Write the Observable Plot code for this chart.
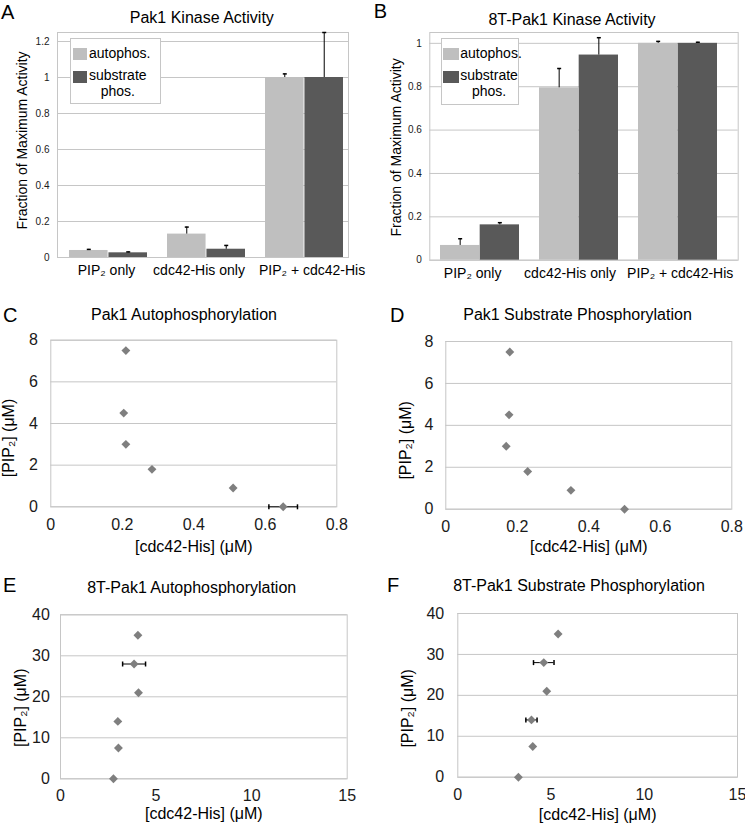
<!DOCTYPE html>
<html>
<head>
<meta charset="utf-8">
<script src="https://cdn.jsdelivr.net/npm/d3@7"></script>
<script src="https://cdn.jsdelivr.net/npm/@observablehq/plot@0.6"></script>
<style>
  body { margin: 0; background: #fff; }
  #fig { position: relative; width: 745px; height: 826px; overflow: hidden;
         font-family: "Liberation Sans", Arial, sans-serif; color: #000; background: #fff; }
  .panel { position: absolute; }
  .title { position: absolute; font-size: 16px; line-height: 16px; width: 400px; text-align: center; white-space: nowrap; }
  .letter { position: absolute; font-size: 20px; line-height: 20px; }
  .legend { position: absolute; background: #fff; border: 1px solid #c6c6c6; box-sizing: border-box; }
  .legend .sw { position: absolute; }
  .legend .lt { position: absolute; font-size: 14px; line-height: 14px; white-space: nowrap; }
  .legend .lt2 { position: absolute; font-size: 14px; line-height: 15.7px; white-space: nowrap; text-align: center; }
</style>
</head>
<body>
<div id="fig"></div>
<script>
// ---------- data ----------
const barCategories = ["PIP₂ only", "cdc42-His only", "PIP₂ + cdc42-His"];
const seriesNames = ["autophos.", "substrate", "phos."];
const pak1Auto = [0.039, 0.13, 1.0];
const pak1AutoErr = [0.006, 0.039, 0.02];
const pak1Sub = [0.026, 0.046, 1.0];
const pak1SubErr = [0.005, 0.021, 0.25];
const t8Auto = [0.068, 0.795, 1.0];
const t8AutoErr = [0.031, 0.089, 0.009];
const t8Sub = [0.163, 0.946, 1.0];
const t8SubErr = [0.01, 0.08, 0.005];
const barTicksA = [0, 0.2, 0.4, 0.6, 0.8, 1, 1.2];
const barTicksB = [0, 0.2, 0.4, 0.6, 0.8, 1];

const pip2Pak1 = [0, 0.9, 1.8, 3, 4.5, 7.5];
const cdcPak1Auto = [0.65, 0.51, 0.283, 0.21, 0.204, 0.21];
const cdcPak1AutoErr = [0.04, 0, 0, 0, 0, 0];
const cdcPak1Sub = [0.50, 0.35, 0.229, 0.169, 0.177, 0.179];
const cdcPak1SubErr = [0, 0, 0, 0, 0, 0];
const pip2T8 = [0, 7.5, 14, 21, 28, 35];
const cdcT8Auto = [2.77, 3.03, 3.0, 4.08, 3.85, 4.05];
const cdcT8AutoErr = [0, 0, 0, 0, 0.6, 0];
const cdcT8Sub = [3.25, 4.02, 3.95, 4.77, 4.61, 5.38];
const cdcT8SubErr = [0, 0, 0.3, 0, 0.55, 0];
const xTicksPak1 = [0, 0.2, 0.4, 0.6, 0.8];
const yTicksPak1 = [0, 2, 4, 6, 8];
const xTicksT8 = [0, 5, 10, 15];
const yTicksT8 = [0, 10, 20, 30, 40];

const titles = ["Pak1 Kinase Activity", "8T-Pak1 Kinase Activity", "Pak1 Autophosphorylation",
  "Pak1 Substrate Phosphorylation", "8T-Pak1 Autophosphorylation", "8T-Pak1 Substrate Phosphorylation"];
const letters = ["A", "B", "C", "D", "E", "F"];
const barYLabel = "Fraction of Maximum Activity";
const scatterXLabel = "[cdc42-His] (μM)";
const scatterYLabel = "[PIP₂] (μM)";

// ---------- style ----------
const FONT = '"Liberation Sans", Arial, sans-serif';
const AUTO = "#bfbfbf", SUB = "#595959", GRID = "#c6c6c6", PT = "#7f7f7f", INK = "#1a1a1a";
const fmt = d => String(+d.toFixed(2));
const hCap = { draw(ctx) { ctx.moveTo(-2, 0); ctx.lineTo(2, 0); } };
const vCap = { draw(ctx) { ctx.moveTo(0, -2.5); ctx.lineTo(0, 2.5); } };

const fig = document.getElementById("fig");
function place(node, left, top) {
  const d = document.createElement("div");
  d.className = "panel";
  d.style.left = left + "px"; d.style.top = top + "px";
  d.appendChild(node); fig.appendChild(d);
}
function addTitle(text, cx, top) {
  const d = document.createElement("div");
  d.className = "title"; d.textContent = text;
  d.style.left = (cx - 200) + "px"; d.style.top = top + "px";
  fig.appendChild(d);
}
function addLetter(text, left, top) {
  const d = document.createElement("div");
  d.className = "letter"; d.textContent = text;
  d.style.left = left + "px"; d.style.top = top + "px";
  fig.appendChild(d);
}
function addLegend(left, top, w, h, swLeft, swW, txtLeft) {
  const box = document.createElement("div");
  box.className = "legend";
  Object.assign(box.style, { left: left + "px", top: top + "px", width: w + "px", height: h + "px" });
  box.innerHTML =
    `<div class="sw" style="left:${swLeft}px;top:8.7px;width:${swW}px;height:12.4px;background:${AUTO}"></div>` +
    `<div class="lt" style="left:${txtLeft}px;top:6.5px">${seriesNames[0]}</div>` +
    `<div class="sw" style="left:${swLeft}px;top:31.6px;width:${swW}px;height:12.4px;background:${SUB}"></div>` +
    `<div class="lt2" style="left:${txtLeft}px;top:29.3px">${seriesNames[1]}<br>${seriesNames[2]}</div>`;
  fig.appendChild(box);
}

function barChart(o) {
  const rows = barCategories.map((c, i) => ({ cat: c, auto: o.auto[i], autoErr: o.autoErr[i], sub: o.sub[i], subErr: o.subErr[i] }));
  const bw = (o.xRange[1] - o.xRange[0]) / 3 * 0.8, half = bw / 2, q = bw / 4;
  return Plot.plot({
    width: o.width, height: o.height,
    marginLeft: o.mL, marginRight: o.mR, marginTop: o.mT, marginBottom: o.mB,
    style: { fontFamily: FONT, fontSize: "10px", color: INK, background: "transparent", overflow: "visible" },
    x: { domain: barCategories, range: o.xRange, paddingInner: 0.2, paddingOuter: 0.1, axis: null },
    y: { domain: [0, o.yMax], ticks: o.yTicks, tickSize: 0, tickPadding: o.tickPad, tickFormat: fmt, label: null },
    marks: [
      Plot.ruleY(o.yTicks, { stroke: GRID }),
      Plot.frame({ stroke: GRID }),
      Plot.barY(rows, { x: "cat", y: "auto", fill: AUTO, insetRight: half }),
      Plot.barY(rows, { x: "cat", y: "sub", fill: SUB, insetLeft: half }),
      Plot.ruleX(rows, { x: "cat", y1: "auto", y2: d => d.auto + d.autoErr, dx: -q, stroke: "#000" }),
      Plot.dot(rows, { x: "cat", y: d => d.auto + d.autoErr, dx: -q, symbol: hCap, r: 2, stroke: "#000", fill: "none" }),
      Plot.ruleX(rows, { x: "cat", y1: "sub", y2: d => d.sub + d.subErr, dx: q, stroke: "#000" }),
      Plot.dot(rows, { x: "cat", y: d => d.sub + d.subErr, dx: q, symbol: hCap, r: 2, stroke: "#000", fill: "none" }),
      ...barCategories.map((c, i) =>
        Plot.text([c], { x: d => d, frameAnchor: "bottom", lineAnchor: "top", textAnchor: "middle",
          dx: o.catDx[i], dy: o.catDy, fontSize: 14, fill: "#000" })),
      Plot.text([barYLabel], { frameAnchor: "left", textAnchor: "middle", lineAnchor: "middle", rotate: -90,
        dx: o.yLabDx, dy: o.yLabDy, fontSize: 14, fill: "#000" })
    ]
  });
}

function scatter(o) {
  const pts = o.xs.map((x, i) => ({ x, y: o.ys[i], e: o.errs[i] }));
  const errPts = pts.filter(d => d.e > 0);
  return Plot.plot({
    width: o.width, height: o.height,
    marginLeft: o.mL, marginRight: o.mR, marginTop: o.mT, marginBottom: o.mB,
    style: { fontFamily: FONT, fontSize: "16px", color: INK, background: "transparent", overflow: "visible" },
    x: { domain: o.xDomain, ticks: o.xTicks, tickSize: 0, tickPadding: o.xPad, tickFormat: fmt, label: null },
    y: { domain: o.yDomain, ticks: o.yTicks, tickSize: 0, tickPadding: o.yPad, tickFormat: fmt, label: null },
    marks: [
      Plot.ruleY(o.yTicks, { stroke: GRID }),
      Plot.frame({ stroke: GRID }),
      Plot.ruleY(errPts, { x1: d => d.x - d.e, x2: d => d.x + d.e, y: "y", stroke: "#000" }),
      Plot.dot(errPts, { x: d => d.x - d.e, y: "y", symbol: vCap, r: 2, stroke: "#000", fill: "none" }),
      Plot.dot(errPts, { x: d => d.x + d.e, y: "y", symbol: vCap, r: 2, stroke: "#000", fill: "none" }),
      Plot.dot(pts, { x: "x", y: "y", symbol: "diamond2", r: 4, fill: PT, stroke: "none" }),
      Plot.text([scatterXLabel], { frameAnchor: "bottom", textAnchor: "middle", lineAnchor: "middle",
        dy: o.xLabDy, fontSize: 16, fill: "#000" }),
      Plot.text([scatterYLabel], { frameAnchor: "left", textAnchor: "middle", lineAnchor: "middle", rotate: -90,
        dx: o.yLabDx, dy: o.yLabDy, fontSize: 16, fill: "#000" })
    ]
  });
}

// ---------- panels ----------
place(barChart({ auto: pak1Auto, autoErr: pak1AutoErr, sub: pak1Sub, subErr: pak1SubErr,
  yMax: 1.25, yTicks: barTicksA, width: 372, height: 290, mL: 57, mR: 24, mT: 32, mB: 33,
  xRange: [57.8, 353.6], catDx: [-2, -7.5, 7.6],
  tickPad: 8, catDy: 8, yLabDx: -35, yLabDy: -4.5 }), 0, 0);
place(barChart({ auto: t8Auto, autoErr: t8AutoErr, sub: t8Sub, subErr: t8SubErr,
  yMax: 1.05, yTicks: barTicksB, width: 373, height: 290, mL: 57.3, mR: 7.3, mT: 32, mB: 30.3,
  xRange: [57.8, 355.4], catDx: [-7.4, -9, 2.2],
  tickPad: 8, catDy: 8.3, yLabDx: -33, yLabDy: 1 }), 372, 0);

place(scatter({ xs: cdcPak1Auto, ys: pip2Pak1, errs: cdcPak1AutoErr, xDomain: [0, 0.8], xTicks: xTicksPak1,
  yDomain: [0, 8], yTicks: yTicksPak1, width: 372, height: 230, mL: 50.3, mR: 35.7, mT: 9.7, mB: 53.7,
  xPad: 12, yPad: 13, xLabDy: 40, yLabDx: -41.8, yLabDy: 14.5 }), 0, 330);
place(scatter({ xs: cdcPak1Sub, ys: pip2Pak1, errs: cdcPak1SubErr, xDomain: [0, 0.8], xTicks: xTicksPak1,
  yDomain: [0, 8], yTicks: yTicksPak1, width: 373, height: 230, mL: 73.3, mR: 13.7, mT: 11, mB: 51.3,
  xPad: 11, yPad: 12.3, xLabDy: 37.5, yLabDx: -40, yLabDy: 15 }), 372, 330);
place(scatter({ xs: cdcT8Auto, ys: pip2T8, errs: cdcT8AutoErr, xDomain: [0, 15], xTicks: xTicksT8,
  yDomain: [0, 40], yTicks: yTicksT8, width: 372, height: 226, mL: 60, mR: 25.3, mT: 14.3, mB: 47.7,
  xPad: 11, yPad: 10.7, xLabDy: 35, yLabDx: -39.2, yLabDy: 11 }), 0, 600);
place(scatter({ xs: cdcT8Sub, ys: pip2T8, errs: cdcT8SubErr, xDomain: [0, 15], xTicks: xTicksT8,
  yDomain: [0, 40], yTicks: yTicksT8, width: 373, height: 226, mL: 85.3, mR: 8, mT: 13, mB: 49.3,
  xPad: 11, yPad: 13.6, xLabDy: 38, yLabDx: -49.5, yLabDy: 13 }), 372, 600);

// titles and letters
addTitle(titles[0], 201.8, 9.8);
addTitle(titles[1], 572, 11.5);
addTitle(titles[2], 184, 307.2);
addTitle(titles[3], 577.5, 307.2);
addTitle(titles[4], 191.7, 579.8);
addTitle(titles[5], 579, 578.2);
addLetter(letters[0], 1, 2.4);
addLetter(letters[1], 373.7, 0.9);
addLetter(letters[2], 3, 305.4);
addLetter(letters[3], 390, 305.4);
addLetter(letters[4], 3, 575.4);
addLetter(letters[5], 387, 575.4);

// legends
addLegend(70, 38, 91, 66, 1.7, 14.6, 18);
addLegend(441.3, 38, 78, 67, 0.4, 16.6, 18);
</script>
</body>
</html>
